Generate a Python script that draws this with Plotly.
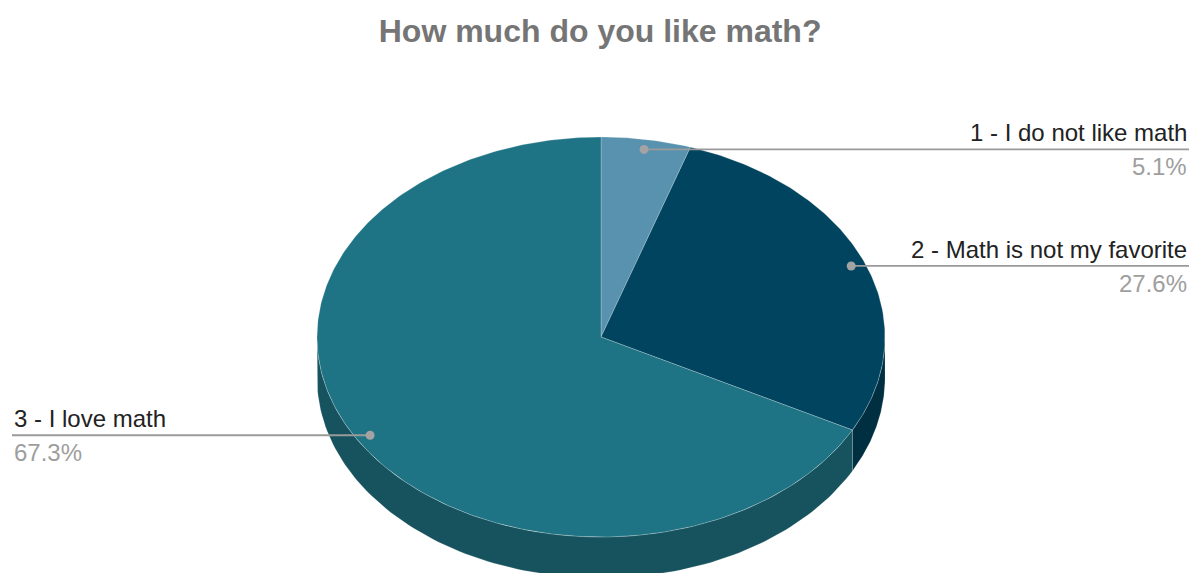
import numpy as np
import plotly.graph_objects as go

# Survey answers and their shares
categories = ["1 - I do not like math", "2 - Math is not my favorite", "3 - I love math"]
shares = [5.1, 27.6, 67.3]
top_colors = ["#5892ae", "#00445f", "#1e7384"]
side_colors = ["#3d6679", "#002f42", "#17535e"]

W, H = 1193, 573
CX, CY = 601, 337          # centre of the top ellipse
RX, RY = 284, 200          # ellipse radii
DEPTH = 41                 # thickness of the pie
FONT = "Liberation Sans, Arial, sans-serif"

def pt(t, r=1.0, dz=0.0):
    """Point on the tilted pie, angle t measured clockwise from 12 o'clock."""
    return CX + r * RX * np.sin(t), CY - r * RY * np.cos(t) + dz

fig = go.Figure()

fracs = np.array(shares) / sum(shares)
starts = np.concatenate([[0], np.cumsum(fracs)[:-1]]) * 2 * np.pi
ends = np.cumsum(fracs) * 2 * np.pi

# Side walls (only the front half, pi/2..3pi/2, is visible)
for a, b, col in zip(starts, ends, side_colors):
    lo, hi = max(a, np.pi / 2), min(b, 3 * np.pi / 2)
    if hi <= lo:
        continue
    t = np.linspace(lo, hi, 120)
    xt, yt = pt(t)
    xb, yb = pt(t[::-1], dz=DEPTH)
    fig.add_trace(go.Scatter(
        x=np.concatenate([xt, xb, xt[:1]]), y=np.concatenate([yt, yb, yt[:1]]),
        fill="toself", fillcolor=col, mode="lines",
        line=dict(color="rgba(255,255,255,0.2)", width=0.8),
        hoverinfo="skip", showlegend=False))

# Top faces
for a, b, col in zip(starts, ends, top_colors):
    t = np.linspace(a, b, max(int((b - a) * 80), 8))
    xs, ys = pt(t)
    fig.add_trace(go.Scatter(
        x=np.concatenate([[CX], xs, [CX]]), y=np.concatenate([[CY], ys, [CY]]),
        fill="toself", fillcolor=col, mode="lines",
        line=dict(color="rgba(255,255,255,0.3)", width=0.8),
        hoverinfo="skip", showlegend=False))

# Leader lines and labels
LEFT_X, RIGHT_X = 12, 1189
for name, s, a, b in zip(categories, shares, starts, ends):
    mid = (a + b) / 2
    dx, dy = pt(mid, r=0.95)
    right = np.sin(mid) >= 0
    end_x = RIGHT_X if right else LEFT_X
    fig.add_trace(go.Scatter(
        x=[end_x, dx], y=[dy, dy], mode="lines",
        line=dict(color="#9a9a9a", width=1.8),
        hoverinfo="skip", showlegend=False))
    fig.add_trace(go.Scatter(
        x=[dx], y=[dy], mode="markers",
        marker=dict(color="#a3a3a3", size=9),
        hoverinfo="skip", showlegend=False))
    anchor = "right" if right else "left"
    fig.add_annotation(x=end_x, y=dy - 1, xref="x", yref="y", text=name,
                       showarrow=False, xanchor=anchor, yanchor="bottom",
                       font=dict(family=FONT, size=24, color="#222222"))
    fig.add_annotation(x=end_x, y=dy + 2, xref="x", yref="y", text=f"{s:.1f}%",
                       showarrow=False, xanchor=anchor, yanchor="top",
                       font=dict(family=FONT, size=24, color="#9e9e9e"))

fig.update_layout(
    width=W, height=H,
    margin=dict(l=0, r=0, t=0, b=0),
    paper_bgcolor="white", plot_bgcolor="white",
    title=dict(text="How much do you like math?", x=0.503, xanchor="center",
               y=1 - 31 / H, yanchor="middle",
               font=dict(family=FONT, size=32, color="#757575", weight="bold")),
    xaxis=dict(range=[0, W], visible=False, fixedrange=True),
    yaxis=dict(range=[H, 0], visible=False, fixedrange=True),
)

fig.write_html("out.html")
